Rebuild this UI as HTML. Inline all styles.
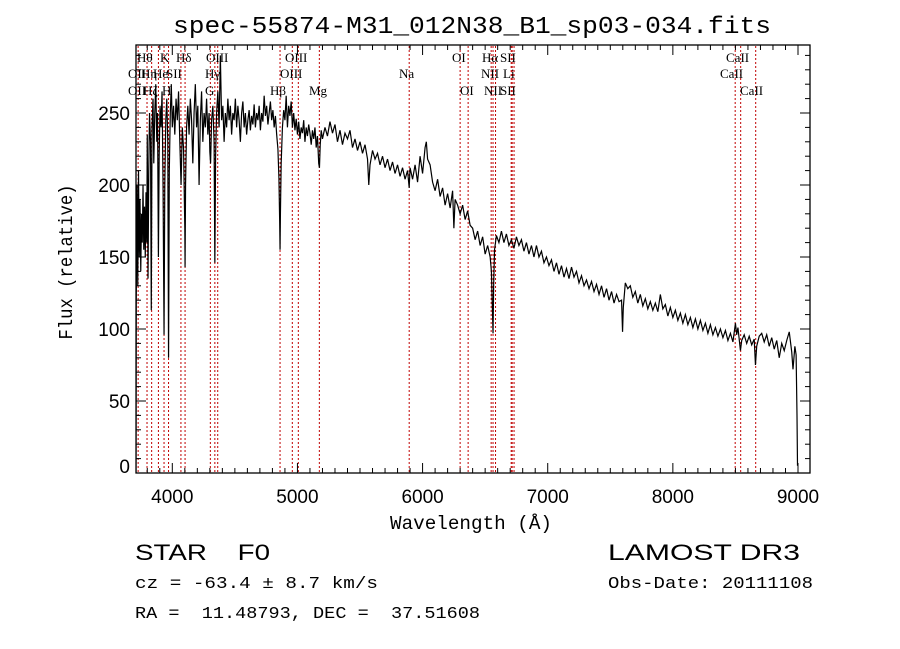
<!DOCTYPE html>
<html><head><meta charset="utf-8"><style>
html,body{margin:0;padding:0;background:#fff;}
svg{display:block;}
text{font-family:"Liberation Mono",monospace;fill:#000;white-space:pre;}
.sans{font-family:"Liberation Sans",sans-serif;}
.ser{font-family:"Liberation Serif",serif;}
</style></head><body>
<svg id="chart" width="900" height="649" viewBox="0 0 900 649" xmlns="http://www.w3.org/2000/svg" xml:space="preserve">
<defs><clipPath id="plotclip"><rect x="136" y="45" width="674" height="428"/></clipPath></defs>
<rect width="900" height="649" fill="#fff"/>
<text x="472" y="33" text-anchor="middle" font-size="24" textLength="598" lengthAdjust="spacingAndGlyphs">spec-55874-M31_012N38_B1_sp03-034.fits</text>
<g id="lines"></g>
<g id="labels"></g>
<g clip-path="url(#plotclip)"><polyline id="spec" fill="none" stroke="#000" stroke-width="1.2" stroke-linejoin="miter"/></g>
<rect x="136" y="45" width="674" height="428" fill="none" stroke="#000" stroke-width="1.3"/>
<g id="ticks"></g>
<text x="471" y="529" text-anchor="middle" font-size="19" textLength="162" lengthAdjust="spacingAndGlyphs">Wavelength (Å)</text>
<text transform="translate(72,262) rotate(-90)" text-anchor="middle" font-size="19" textLength="155" lengthAdjust="spacingAndGlyphs">Flux (relative)</text>
<text class="sans" x="135" y="560" font-size="22" textLength="135" lengthAdjust="spacingAndGlyphs">STAR    F0</text>
<text class="sans" x="608" y="560" font-size="22" textLength="192" lengthAdjust="spacingAndGlyphs">LAMOST DR3</text>
<text x="135" y="588" font-size="17" textLength="243" lengthAdjust="spacingAndGlyphs">cz = -63.4 ± 8.7 km/s</text>
<text x="608" y="588" font-size="17" textLength="205" lengthAdjust="spacingAndGlyphs">Obs-Date: 20111108</text>
<text x="135" y="618" font-size="17" textLength="345" lengthAdjust="spacingAndGlyphs">RA =  11.48793, DEC =  37.51608</text>
</svg>
<script>
const wavelengths=[3710,3712,3718,3724,3730,3736,3742,3748,3754,3760,3766,3772,3778,3784,3790,3796,3800,3806,3812,3818,3826,3832,3838,3846,3852,3860,3868,3876,3882,3889,3895,3902,3910,3918,3926,3934,3940,3948,3956,3964,3970,3976,3984,3992,4000,4010,4020,4030,4040,4050,4060,4070,4080,4090,4100,4102,4106,4114,4124,4134,4144,4154,4164,4174,4184,4194,4204,4214,4224,4234,4244,4254,4264,4274,4284,4294,4300,4306,4314,4324,4334,4340,4346,4354,4364,4374,4384,4394,4404,4414,4424,4434,4444,4454,4464,4474,4484,4494,4504,4514,4524,4534,4544,4554,4564,4574,4584,4594,4604,4614,4624,4634,4644,4654,4664,4674,4684,4694,4704,4714,4724,4734,4744,4754,4764,4774,4784,4794,4804,4814,4824,4834,4844,4852,4858,4861,4864,4870,4880,4890,4900,4910,4920,4930,4940,4950,4960,4970,4980,4990,5000,5010,5020,5030,5040,5050,5060,5070,5080,5090,5100,5110,5120,5130,5140,5150,5160,5170,5176,5182,5190,5200,5220,5240,5260,5280,5300,5320,5340,5360,5380,5400,5420,5440,5460,5480,5500,5520,5540,5560,5570,5580,5600,5620,5640,5660,5680,5700,5720,5740,5760,5780,5800,5820,5840,5860,5880,5893,5900,5920,5940,5960,5980,6000,6020,6030,6040,6060,6080,6100,6120,6140,6160,6180,6200,6220,6240,6250,6260,6280,6300,6320,6340,6360,6380,6400,6420,6440,6460,6480,6500,6520,6540,6550,6556,6563,6568,6575,6590,6610,6630,6650,6670,6690,6710,6730,6750,6770,6790,6810,6830,6850,6870,6890,6910,6930,6950,6970,6990,7010,7030,7050,7070,7090,7110,7130,7150,7170,7190,7210,7230,7250,7270,7290,7310,7330,7350,7370,7390,7410,7430,7450,7470,7490,7510,7530,7550,7570,7590,7598,7604,7620,7640,7660,7680,7700,7720,7740,7760,7780,7800,7820,7840,7860,7880,7900,7920,7940,7960,7980,8000,8020,8040,8060,8080,8100,8120,8140,8160,8180,8200,8220,8240,8260,8280,8300,8320,8340,8360,8380,8400,8420,8440,8460,8480,8500,8510,8520,8540,8550,8570,8590,8610,8630,8650,8660,8670,8690,8710,8730,8750,8770,8790,8810,8830,8850,8870,8890,8910,8930,8950,8960,8975,8985,8992,8996];
const fluxes=[0,120,200,130,210,150,190,140,180,160,200,155,185,150,195,160,235,135,210,250,230,113,240,260,215,250,270,230,250,150,220,255,240,265,200,96,200,245,260,230,80,210,250,270,240,255,235,260,245,265,230,200,240,225,170,143,200,240,255,235,260,245,215,250,270,240,255,200,245,265,230,250,240,260,235,250,223,215,245,255,230,146,220,250,265,240,290,245,255,230,250,240,260,245,255,235,250,245,260,240,255,245,230,250,258,240,250,235,245,252,238,248,242,256,240,250,245,255,238,250,244,262,248,255,242,250,258,245,252,240,248,235,225,205,175,155,180,215,240,252,245,262,240,255,248,258,240,250,238,246,235,244,232,240,236,245,230,240,234,242,236,228,238,232,240,226,234,215,212,228,238,232,240,234,244,236,242,230,238,228,236,232,238,226,232,224,230,222,228,218,200,214,224,218,222,214,220,212,218,210,216,208,214,206,212,204,210,198,212,204,214,202,220,208,226,230,218,214,202,196,204,192,198,186,194,184,196,170,190,186,180,186,176,182,172,170,162,168,158,164,152,158,150,140,120,97,130,155,165,160,168,160,166,158,162,156,164,158,162,154,160,152,158,150,158,150,154,146,150,144,148,140,146,138,144,136,142,135,143,136,140,132,137,130,134,128,133,126,131,124,130,122,128,120,126,118,124,119,120,98,115,132,128,130,122,126,118,124,116,121,114,119,113,118,112,124,114,117,109,115,108,113,106,111,104,110,103,108,101,107,100,106,99,104,97,103,96,101,95,100,94,99,92,97,91,104,96,101,85,92,96,90,95,89,93,75,88,95,97,91,96,88,94,86,92,80,90,85,92,98,84,72,88,82,40,5];
const lineWaves=[3727,3798,3835,3889,3934,3970,4069,4102,4304,4340,4363,4861,4959,5007,5175,5893,6300,6364,6548,6563,6583,6708,6716,6731,8498,8542,8662];
const labelTexts=["Hθ","K","Hδ","OIII","OIII","OI","Hα","SII","CaII","OII","Hη","He","SII","Hγ","OIII","Na","NII","Li","CaII","OII","Hζ","H","G","Hβ","Mg","OI","NII","SII","CaII"];
const labelX=[137,160,176,206,285,452,482,500,726,128,141,153,166,205,280,399,481,503,720,128,143,162,205,270,309,460,484,500,740];
const labelRow=[0,0,0,0,0,0,0,0,0,1,1,1,1,1,1,1,1,1,1,2,2,2,2,2,2,2,2,2,2];
const xTicks=[4000,5000,6000,7000,8000,9000];
const yTicks=[0,50,100,150,200,250];
const NS="http://www.w3.org/2000/svg";
function xs(w){return 172.3+(w-4000)*0.12514;}
function ys(f){return 473-f*1.44;}
const pts=wavelengths.map((w,i)=>xs(w).toFixed(2)+","+ys(fluxes[i]).toFixed(2)).join(" ");
document.getElementById('spec').setAttribute('points',pts);
const lg=document.getElementById('lines');
lineWaves.forEach(w=>{
  const l=document.createElementNS(NS,'line');
  
  
  const x=xs(w);
  l.setAttribute('x1',x);l.setAttribute('x2',x);l.setAttribute('y1',46);l.setAttribute('y2',473);
  l.setAttribute('stroke','#c00000');l.setAttribute('stroke-width','1');l.setAttribute('stroke-dasharray','2,2');
  lg.appendChild(l);
});
const lb=document.getElementById('labels');
const rowY=[62,78,95];
labelTexts.forEach((t,i)=>{
  const e=document.createElementNS(NS,'text');
  
  
  e.setAttribute('class','ser');
  e.setAttribute('x',labelX[i]);e.setAttribute('y',rowY[labelRow[i]]);
  e.setAttribute('font-size','13');
  e.textContent=t;lb.appendChild(e);
});
const tg=document.getElementById('ticks');
function addLine(x1,y1,x2,y2){
  const l=document.createElementNS(NS,'line');
  
  
  l.setAttribute('x1',x1);l.setAttribute('y1',y1);l.setAttribute('x2',x2);l.setAttribute('y2',y2);
  l.setAttribute('stroke','#000');l.setAttribute('stroke-width','1');tg.appendChild(l);
}
function addText(x,y,t,anchor,name){
  const e=document.createElementNS(NS,'text');
  
  
  e.setAttribute('class','sans');
  e.setAttribute('x',x);e.setAttribute('y',y);e.setAttribute('text-anchor',anchor);
  e.setAttribute('font-size','19');e.textContent=t;tg.appendChild(e);
}
for(let w=3800;w<=9000;w+=100){
  const x=xs(w);const major=(w%1000===0);const len=major?10:5;
  addLine(x,473,x,473-len);addLine(x,45,x,45+len);
}
xTicks.forEach(w=>addText(xs(w),503,String(w),'middle','x-tick-label'));
for(let f=0;f<=290;f+=10){
  const y=ys(f);const major=(f%50===0);const len=major?10:5;
  addLine(136,y,136+len,y);addLine(810,y,810-len,y);
}
yTicks.forEach(f=>{const y=f===0?473:ys(f)+7;addText(130,y,String(f),'end','y-tick-label');});
</script>
</body></html>
